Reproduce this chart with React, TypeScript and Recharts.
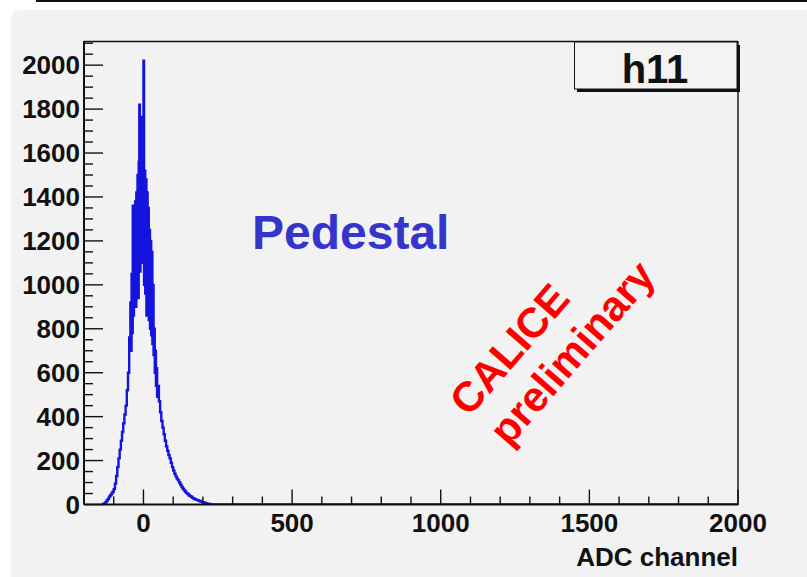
import React from 'react';
import { LineChart, Line, XAxis, YAxis } from 'recharts';

const FONT = '"Liberation Sans", Arial, Helvetica, sans-serif';

// Histogram h11: lower bin edges (ADC channel) and entries per bin.
// Tails use 4-channel bins, the pedestal core 2-channel bins.
const binLowEdge: number[] = [
  -140, -136, -132, -128, -124, -120, -116, -112, -108, -104,
  -100, -96, -92, -88, -84, -80, -76, -72, -68, -64,
  -60, -56, -52, -48,
  -44, -42, -40, -38, -36, -34, -32, -30, -28, -26,
  -24, -22, -20, -18, -16, -14, -12, -10, -8, -6,
  -4, -2, 0, 2, 4, 6, 8, 10, 12, 14,
  16, 18, 20, 22, 24, 26, 28, 30, 32, 34,
  36, 38, 40, 42, 44, 46,
  48, 52, 56, 60, 64, 68, 72, 76, 80, 84,
  88, 92, 96, 100, 104, 108, 112, 116, 120, 124,
  128, 132, 136, 140, 144, 148, 152, 156, 160, 164,
  168, 172, 176, 180, 184, 188, 192, 196, 200, 204,
  208, 212, 216, 220, 224, 228, 2000,
];

const binEntries: number[] = [
  0, 2, 5, 10, 18, 25, 35, 42, 50, 58,
  70, 95, 130, 170, 210, 250, 290, 330, 370, 410,
  450, 520, 600, 760,
  920, 700, 1050, 780, 1360, 860, 1320, 960, 1380, 900,
  1420, 1040, 1500, 940, 1560, 1820, 1060, 1540, 1764, 1100,
  1620, 1160, 2020, 1000, 1520, 960, 1480, 860, 1420, 990,
  1350, 840, 1250, 800, 1200, 770, 1150, 730, 1000, 680,
  800, 600, 700, 540, 620, 490,
  540, 470, 420, 380, 350, 320, 290, 265, 245, 225,
  210, 190, 170, 155, 140, 128, 118, 110, 100, 90,
  80, 72, 65, 58, 52, 48, 42, 38, 35, 30,
  27, 24, 22, 20, 18, 16, 14, 12, 10, 8,
  6, 5, 3, 2, 1, 0, 0,
];

const xTickValues: number[] = [
  -200, -100, 0, 100, 200, 300, 400, 500, 600, 700, 800, 900, 1000,
  1100, 1200, 1300, 1400, 1500, 1600, 1700, 1800, 1900, 2000,
];
const xLabelValues: number[] = [0, 500, 1000, 1500, 2000];

const yTickValues: number[] = [
  0, 50, 100, 150, 200, 250, 300, 350, 400, 450, 500, 550, 600, 650, 700,
  750, 800, 850, 900, 950, 1000, 1050, 1100, 1150, 1200, 1250, 1300, 1350,
  1400, 1450, 1500, 1550, 1600, 1650, 1700, 1750, 1800, 1850, 1900, 1950,
  2000, 2050, 2100,
];
const yLabelValues: number[] = [0, 200, 400, 600, 800, 1000, 1200, 1400, 1600, 1800, 2000];

const data = binLowEdge.map((adc, i) => ({ adc, entries: binEntries[i] }));

const XTick = (props: any) => {
  const { x, y, payload } = props;
  const v = payload.value as number;
  const major = xLabelValues.includes(v);
  return (
    <g>
      <line x1={x} x2={x} y1={y} y2={y - (major ? 15 : 8)} stroke="#111" strokeWidth={1.4} />
      {major && (
        <text x={x} y={y + 27} textAnchor="middle" fontFamily={FONT} fontWeight="bold"
          fontSize={26} fill="#111">{v}</text>
      )}
    </g>
  );
};

const YTick = (props: any) => {
  const { x, y, payload } = props;
  const v = payload.value as number;
  const major = yLabelValues.includes(v);
  return (
    <g>
      <line x1={x} x2={x + (major ? 19 : 9)} y1={y} y2={y} stroke="#111" strokeWidth={1.4} />
      {major && (
        <text x={x - 4} y={y + 9} textAnchor="end" fontFamily={FONT} fontWeight="bold"
          fontSize={26} fill="#111">{v}</text>
      )}
    </g>
  );
};

export default function App() {
  return (
    <div style={{ position: 'absolute', left: 0, top: 0, width: 807, height: 577, background: '#fff', overflow: 'hidden' }}>
      {/* canvas pad and slide border */}
      <svg width={807} height={577} style={{ position: 'absolute', left: 0, top: 0 }}>
        <rect x={11} y={10} width={820} height={600} rx={9} fill="#f2f2f2" />
        <path d="M37,-2 V1 H810" fill="none" stroke="#111" strokeWidth={2} />
      </svg>

      <div style={{ position: 'absolute', left: 0, top: 0 }}>
        <LineChart width={807} height={577} data={data}
          margin={{ top: 41, right: 69, bottom: 0, left: 0 }}>
          <XAxis type="number" dataKey="adc" domain={[-200, 2000]} allowDataOverflow
            ticks={xTickValues} interval={0} tickSize={0} tickMargin={0} height={72.5}
            tick={<XTick />} tickLine={false} axisLine={{ stroke: '#111', strokeWidth: 2 }} />
          <YAxis type="number" domain={[0, 2110]} allowDataOverflow
            ticks={yTickValues} interval={0} tickSize={0} tickMargin={0} width={84}
            tick={<YTick />} tickLine={false} axisLine={{ stroke: '#111', strokeWidth: 2 }} />
          <Line type="stepAfter" dataKey="entries" stroke="#1414dc" strokeWidth={2.4}
            dot={false} activeDot={false} isAnimationActive={false} />
        </LineChart>
      </div>

      {/* frame, stats box and annotations */}
      <svg width={807} height={577} style={{ position: 'absolute', left: 0, top: 0, pointerEvents: 'none' }}>
        <line x1={84} x2={738} y1={41.5} y2={41.5} stroke="#111" strokeWidth={1.4} />
        <line x1={738} x2={738} y1={41} y2={505} stroke="#111" strokeWidth={1.4} />

        <rect x={577} y={45} width={163} height={47} fill="#111" />
        <rect x={574.5} y={42} width={162.5} height={47} fill="#f3f3f3" stroke="#111" strokeWidth={1} />
        <text x={655} y={83} textAnchor="middle" fontFamily={FONT} fontWeight="bold" fontSize={40} fill="#111">h11</text>

        <text x={252} y={249} fontFamily={FONT} fontWeight="bold" fontSize={48} fill="#3535cc">Pedestal</text>

        <g transform="translate(509,349) rotate(-49)">
          <text x={0} y={15} textAnchor="middle" fontFamily={FONT} fontWeight="bold" fontSize={42} fill="#ff0000">CALICE</text>
        </g>
        <g transform="translate(578,358) rotate(-49)">
          <text x={0} y={6.5} textAnchor="middle" fontFamily={FONT} fontWeight="bold" fontSize={42} fill="#ff0000">preliminary</text>
        </g>

        <text x={738} y={566} textAnchor="end" fontFamily={FONT} fontWeight="bold" fontSize={26} fill="#111">ADC channel</text>
      </svg>
    </div>
  );
}
